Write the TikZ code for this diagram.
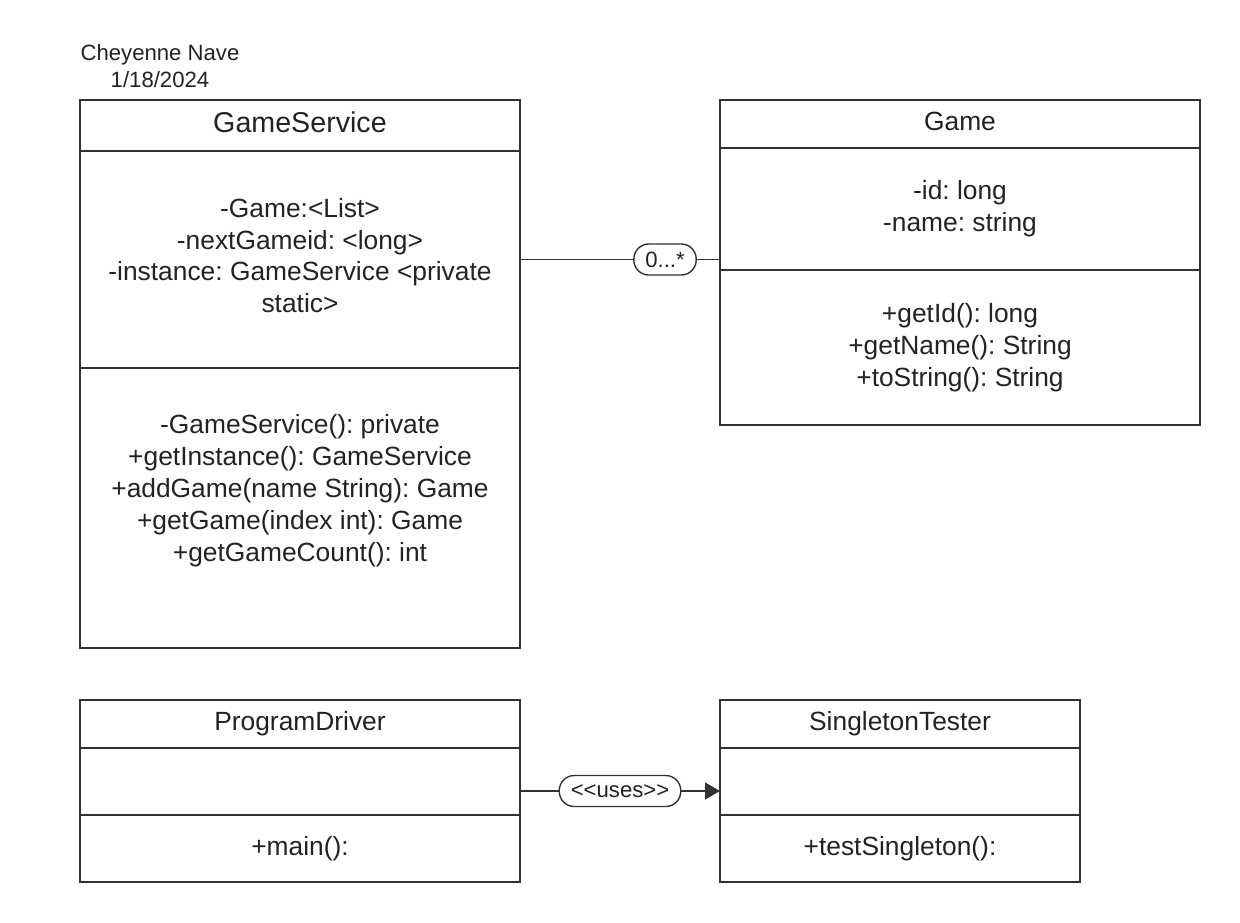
\documentclass[tikz,border=0pt]{standalone}
\usepackage{fontspec}
\setmainfont{Liberation Sans}
\frenchspacing
\usetikzlibrary{positioning, arrows.meta}
\definecolor{linegray}{HTML}{333333}
\definecolor{textgray}{HTML}{222222}
\tikzstyle{classbox} = [rectangle, draw=linegray, line width=1.1pt, outer sep=0pt, align=center, text=textgray, font=\fontsize{15}{18.1}\selectfont]
\tikzstyle{bigtitle} = [classbox, font=\fontsize{16.3}{19.5}\selectfont]
\tikzstyle{tag} = [rectangle, rounded corners=0.3cm, draw=linegray, line width=0.8pt, fill=white, text=textgray, inner xsep=0.23cm, inner ysep=0pt, minimum height=0.62cm, font=\fontsize{12.6}{15}\selectfont]
\tikzstyle{link} = [draw=linegray, line width=0.8pt]
\tikzstyle{arrow} = [link, -{Triangle[length=0.3cm,width=0.34cm]}]

\begin{document}
\begin{tikzpicture}
\useasboundingbox (0,0) rectangle (24.8,-18.44);

% Author
\node (author) [align=center, text=textgray, font=\fontsize{12.6}{15.3}\selectfont] at (3.2,-1.33) {Cheyenne Nave\\1/18/2024};

% GameService
\node (gsTitle) [bigtitle, minimum width=8.8cm, minimum height=1.02cm] at (6.0,-2.51) {GameService\vphantom{g}};
\node (gsAttr) [classbox, below=0cm of gsTitle, minimum width=8.8cm, minimum height=4.34cm] {-Game:<List>\\-nextGameid: <long>\\-instance: GameService <private\\static>\rule[-0.16cm]{0pt}{0.16cm}};
\node (gsMeth) [classbox, below=0cm of gsAttr, minimum width=8.8cm, minimum height=5.6cm] {-GameService(): private\\+getInstance(): GameService\\+addGame(name String): Game\\+getGame(index int): Game\\+getGameCount(): int\rule[-0.8cm]{0pt}{0.8cm}};

% Game
\node (gameTitle) [classbox, minimum width=9.6cm, minimum height=0.96cm] at (19.2,-2.48) {Game\vphantom{g}};
\node (gameAttr) [classbox, below=0cm of gameTitle, minimum width=9.6cm, minimum height=2.44cm] {-id: long\\-name: string};
\node (gameMeth) [classbox, below=0cm of gameAttr, minimum width=9.6cm, minimum height=3.1cm] {+getId(): long\\+getName(): String\\+toString(): String};

% ProgramDriver
\node (pdTitle) [classbox, minimum width=8.8cm, minimum height=0.96cm] at (6.0,-14.48) {ProgramDriver\vphantom{g}};
\node (pdAttr) [classbox, below=0cm of pdTitle, minimum width=8.8cm, minimum height=1.34cm] {};
\node (pdMeth) [classbox, below=0cm of pdAttr, minimum width=8.8cm, minimum height=1.34cm] {+main():};

% SingletonTester
\node (stTitle) [classbox, minimum width=7.2cm, minimum height=0.96cm] at (18.0,-14.48) {SingletonTester\vphantom{g}};
\node (stAttr) [classbox, below=0cm of stTitle, minimum width=7.2cm, minimum height=1.34cm] {};
\node (stMeth) [classbox, below=0cm of stAttr, minimum width=7.2cm, minimum height=1.34cm] {+testSingleton():};

% Connectors
\draw [link] (gsAttr.east) -- node[tag, pos=0.725] {0...*} (gsAttr.east -| gameAttr.west);
\draw [arrow] ([yshift=-0.19cm]pdAttr.east) -- node[tag, pos=0.5] {<{}<uses>{}>} ([yshift=-0.19cm]stAttr.west);

\end{tikzpicture}
\end{document}
